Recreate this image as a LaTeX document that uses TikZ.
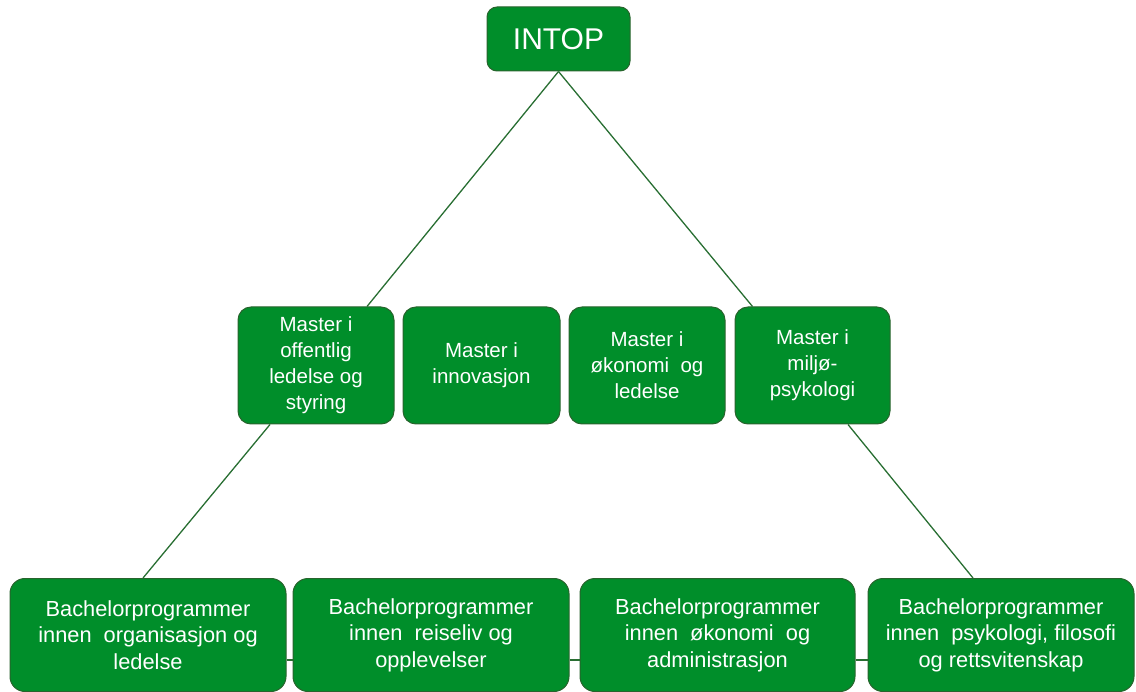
\documentclass[tikz,border=0pt]{standalone}
\usepackage{fontspec}
\setmainfont{Liberation Sans}
\definecolor{boxgreen}{RGB}{0,142,42}
\definecolor{boxborder}{RGB}{40,100,45}
\definecolor{linegreen}{RGB}{40,110,50}
\begin{document}
\begin{tikzpicture}[x=1pt,y=-1pt,
  box/.style={draw=boxborder, fill=boxgreen, line width=1pt, text=white, align=center, inner sep=0pt},
  masterbox/.style={box, rounded corners=13pt, minimum width=156pt, minimum height=117pt, font=\fontsize{20.5}{26}\selectfont},
  bachbox/.style={box, rounded corners=15pt, minimum height=113pt, font=\fontsize{21.8}{26.5}\selectfont},
  conn/.style={draw=linegreen, line width=1.3pt}]
\useasboundingbox (0,0) rectangle (1136,692);
% nodes
\node[box, rounded corners=10pt, minimum width=143pt, minimum height=64pt, font=\fontsize{30}{32}\selectfont] (intop) at (558.5,39) {INTOP};
\node[masterbox] (m1) at (316,365.5) {Master i\\offentlig\\ledelse og\\styring};
\node[masterbox, minimum width=157pt] (m2) at (481.5,365.5) {Master i\\innovasjon};
\node[masterbox] (m3) at (647,365.5) {Master i\\økonomi\ \ og\\ledelse};
\node[masterbox, minimum width=155pt] (m4) at (812.5,365.5) {Master i\\miljø-\\psykologi};
\node[bachbox, minimum width=276pt] (b1) at (148,635) {Bachelorprogrammer\\innen\ \ organisasjon og\\ledelse};
\node[bachbox, minimum width=276pt] (b2) at (431,635) {Bachelorprogrammer\\innen\ \ reiseliv og\\opplevelser};
\node[bachbox, minimum width=275pt] (b3) at (717.5,635) {Bachelorprogrammer\\innen\ \ økonomi\ \ og\\administrasjon};
\node[bachbox, minimum width=266pt] (b4) at (1001,635) {Bachelorprogrammer\\innen\ \ psykologi, filosofi\\og rettsvitenskap};
% anchor coordinates
\coordinate (m1top) at ([xshift=51pt]m1.north);
\coordinate (m4top) at ([xshift=-60pt]m4.north);
\coordinate (m1bot) at ([xshift=-46pt]m1.south);
\coordinate (b1top) at ([xshift=-5pt]b1.north);
\coordinate (m4bot) at ([xshift=35.5pt]m4.south);
\coordinate (b4top) at ([xshift=-28pt]b4.north);
% connectors
\draw[conn] (intop.south) -- (m1top);
\draw[conn] (intop.south) -- (m4top);
\draw[conn] (m1bot) -- (b1top);
\draw[conn] (m4bot) -- (b4top);
\draw[conn] ([yshift=-25pt]b1.east) -- ([yshift=-25pt]b2.west);
\draw[conn] ([yshift=-25pt]b2.east) -- ([yshift=-25pt]b3.west);
\draw[conn] ([yshift=-25pt]b3.east) -- ([yshift=-25pt]b4.west);
\end{tikzpicture}
\end{document}
